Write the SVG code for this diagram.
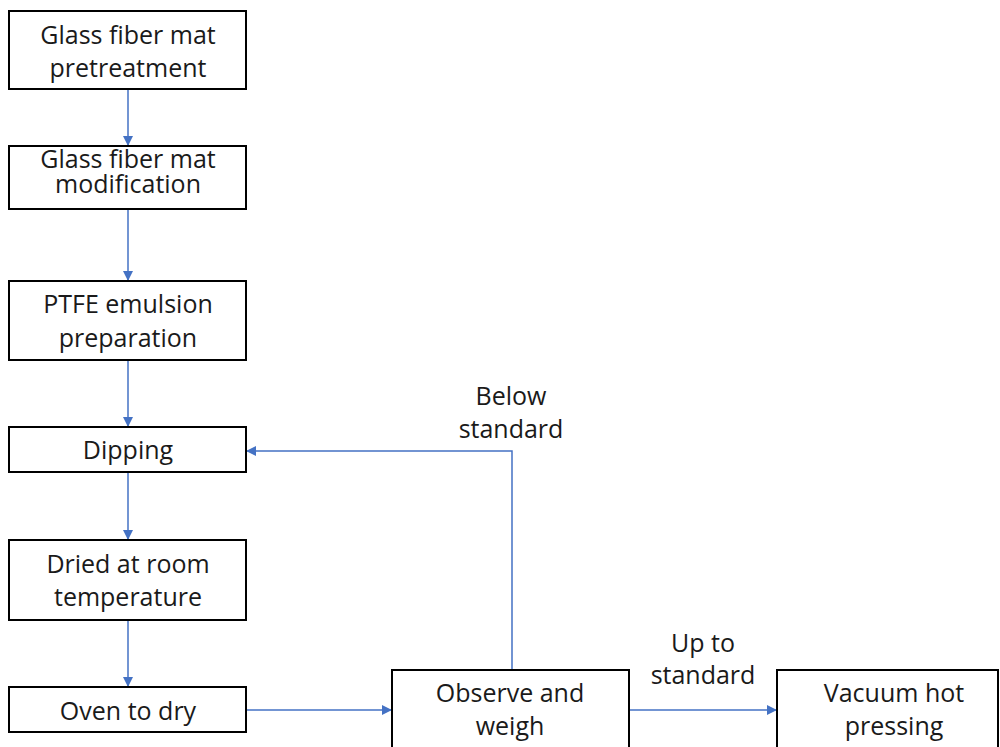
<svg xmlns="http://www.w3.org/2000/svg" width="1000" height="747" viewBox="0 0 1000 747">
<defs>
<style>
.box{fill:#fff;stroke:#000;stroke-width:2}
.t{font-family:"Open Sans","Noto Sans",sans-serif;font-size:25px;fill:#1a1a1a;text-anchor:middle}
.c{fill:none;stroke:#4472C4;stroke-width:1.5}
</style>
<marker id="ah" viewBox="0 0 10 10" refX="10" refY="5" markerWidth="10" markerHeight="10" markerUnits="userSpaceOnUse" orient="auto">
<path d="M0,0 L10,5 L0,10 Z" fill="#4472C4"/>
</marker>
</defs>
<rect width="1000" height="747" fill="#fff"/>
<g id="connectors">
<line class="c" x1="128" y1="89" x2="128" y2="146" marker-end="url(#ah)"/>
<line class="c" x1="128" y1="209" x2="128" y2="281" marker-end="url(#ah)"/>
<line class="c" x1="128" y1="360" x2="128" y2="427" marker-end="url(#ah)"/>
<line class="c" x1="128" y1="472" x2="128" y2="540" marker-end="url(#ah)"/>
<line class="c" x1="128" y1="620" x2="128" y2="687" marker-end="url(#ah)"/>
<line class="c" x1="246" y1="710" x2="392" y2="710" marker-end="url(#ah)"/>
<line class="c" x1="629" y1="710" x2="777" y2="710" marker-end="url(#ah)"/>
<polyline class="c" points="512,670 512,451 246,451" marker-end="url(#ah)"/>
<text class="t" x="511" y="405">Below</text>
<text class="t" x="511" y="438">standard</text>
<text class="t" x="703" y="652">Up to</text>
<text class="t" x="703" y="684">standard</text>
</g>
<g id="n1"><rect class="box" x="9" y="11" width="237" height="78"/><text class="t" x="128" y="44">Glass fiber mat</text><text class="t" x="128" y="77">pretreatment</text></g>
<g id="n2"><rect class="box" x="9" y="146" width="237" height="63"/><text class="t" x="128" y="168">Glass fiber mat</text><text class="t" x="128" y="193">modification</text></g>
<g id="n3"><rect class="box" x="9" y="281" width="237" height="79"/><text class="t" x="128" y="313">PTFE emulsion</text><text class="t" x="128" y="347">preparation</text></g>
<g id="n4"><rect class="box" x="9" y="427" width="237" height="45"/><text class="t" x="128" y="459">Dipping</text></g>
<g id="n5"><rect class="box" x="9" y="540" width="237" height="80"/><text class="t" x="128" y="573">Dried at room</text><text class="t" x="128" y="606">temperature</text></g>
<g id="n6"><rect class="box" x="9" y="687" width="237" height="45"/><text class="t" x="128" y="720">Oven to dry</text></g>
<g id="n7"><rect class="box" x="392" y="670" width="237" height="90"/><text class="t" x="510" y="702">Observe and</text><text class="t" x="510" y="735">weigh</text></g>
<g id="n8"><rect class="box" x="777" y="670" width="221" height="90"/><text class="t" x="894" y="702">Vacuum hot</text><text class="t" x="894" y="735">pressing</text></g>
</svg>
